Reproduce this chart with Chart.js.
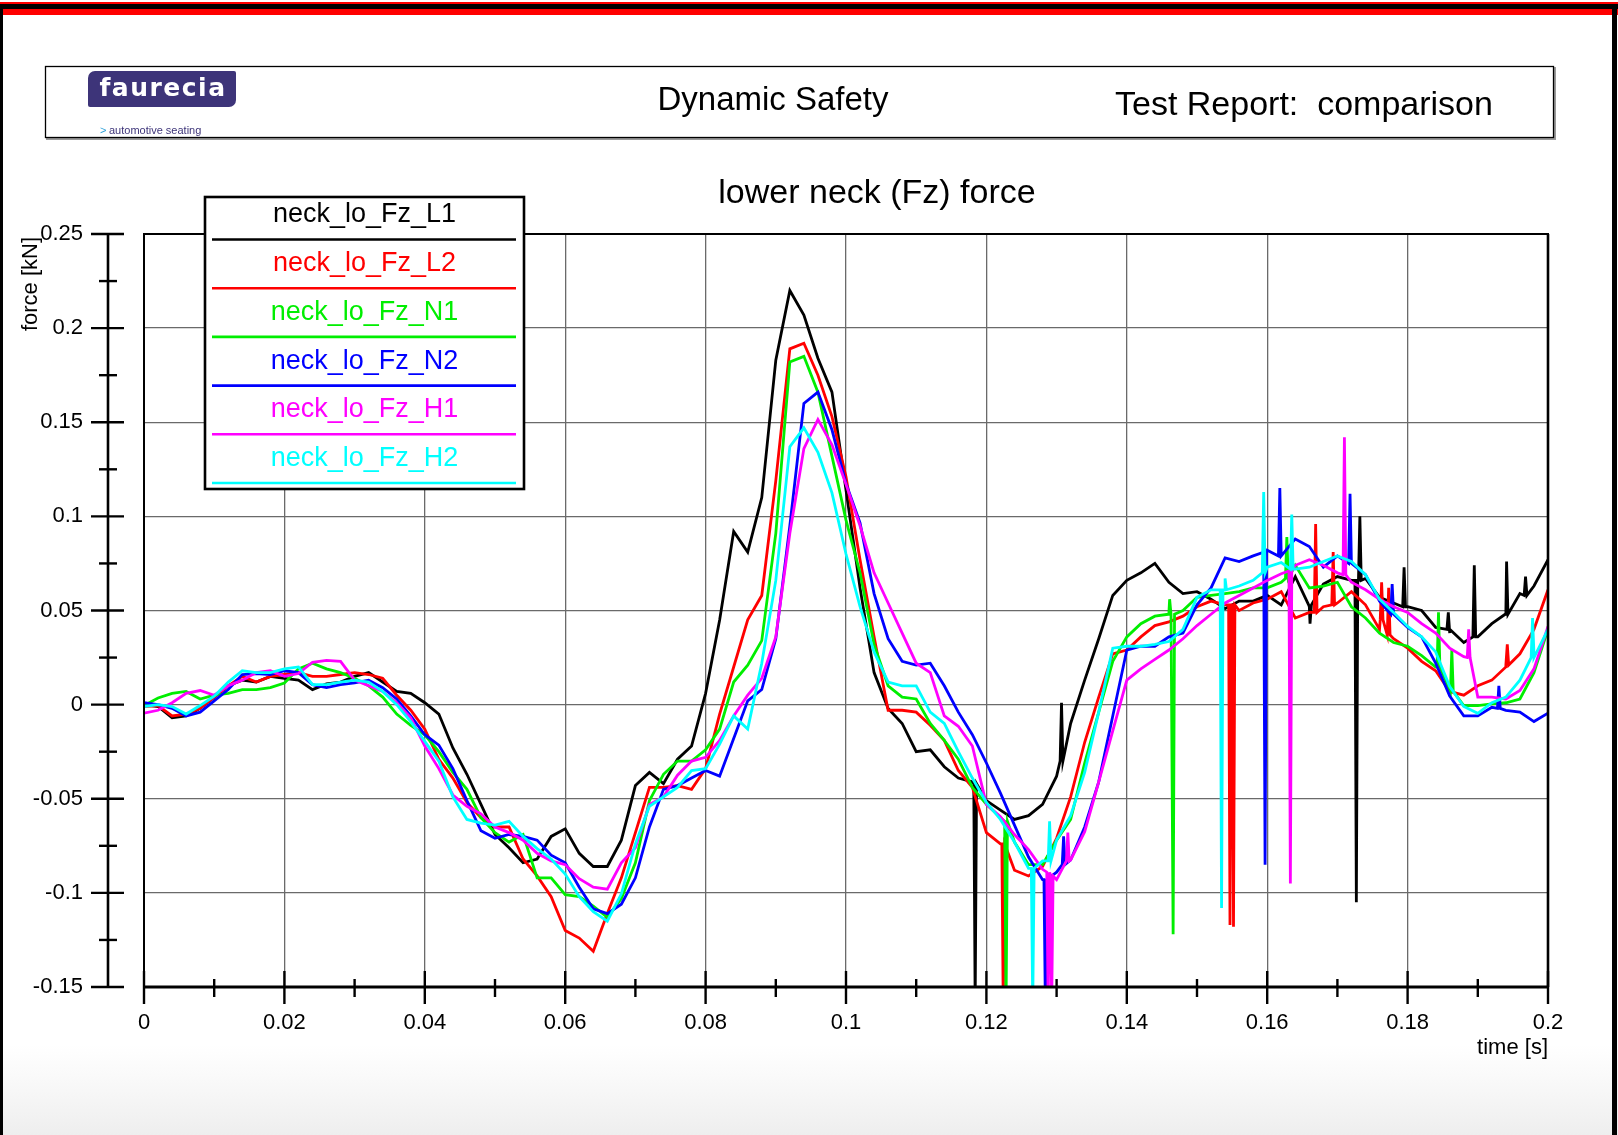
<!DOCTYPE html>
<html>
<head>
<meta charset="utf-8">
<script src="https://cdn.jsdelivr.net/npm/chart.js@4.4.1/dist/chart.umd.min.js"></script>
<style>
  html, body { margin: 0; padding: 0; background: #fff; }
  canvas { display: block; }
</style>
</head>
<body>
<canvas id="chart" width="1618" height="1135"></canvas>
<script>
// sample times [s], one value per 2 ms
const timeS = [
  0, 0.002, 0.004, 0.006, 0.008, 0.01, 0.012, 0.014, 0.016, 0.018,
  0.02, 0.022, 0.024, 0.026, 0.028, 0.03, 0.032, 0.034, 0.036, 0.038,
  0.04, 0.042, 0.044, 0.046, 0.048, 0.05, 0.052, 0.054, 0.056, 0.058,
  0.06, 0.062, 0.064, 0.066, 0.068, 0.07, 0.072, 0.074, 0.076, 0.078,
  0.08, 0.082, 0.084, 0.086, 0.088, 0.09, 0.092, 0.094, 0.096, 0.098,
  0.1, 0.102, 0.104, 0.106, 0.108, 0.11, 0.112, 0.114, 0.116, 0.118,
  0.12, 0.122, 0.124, 0.126, 0.128, 0.13, 0.132, 0.134, 0.136, 0.138,
  0.14, 0.142, 0.144, 0.146, 0.148, 0.15, 0.152, 0.154, 0.156, 0.158,
  0.16, 0.162, 0.164, 0.166, 0.168, 0.17, 0.172, 0.174, 0.176, 0.178,
  0.18, 0.182, 0.184, 0.186, 0.188, 0.19, 0.192, 0.194, 0.196, 0.198,
  0.2
];

// force [kN]
const fzL1 = [
  0.000, -0.001, -0.007, -0.006, -0.002, 0.004, 0.010, 0.013, 0.012, 0.015,
  0.014, 0.013, 0.008, 0.011, 0.012, 0.015, 0.017, 0.012, 0.007, 0.006,
  0.001, -0.005, -0.023, -0.037, -0.053, -0.069, -0.076, -0.084, -0.082, -0.070,
  -0.066, -0.079, -0.086, -0.086, -0.072, -0.043, -0.036, -0.042, -0.029, -0.022,
  0.006, 0.045, 0.092, 0.081, 0.110, 0.183, 0.220, 0.207, 0.184, 0.166,
  0.114, 0.062, 0.017, -0.002, -0.010, -0.025, -0.024, -0.033, -0.039, -0.041,
  -0.051, -0.056, -0.061, -0.059, -0.053, -0.038, -0.010, 0.013, 0.035, 0.058,
  0.066, 0.070, 0.075, 0.065, 0.059, 0.060, 0.056, 0.051, 0.055, 0.055,
  0.058, 0.053, 0.068, 0.052, 0.064, 0.068, 0.066, 0.067, 0.057, 0.054,
  0.052, 0.050, 0.041, 0.038, 0.033, 0.036, 0.043, 0.050, 0.059, 0.063,
  0.077
];
const fzL2 = [
  -0.001, -0.0005, -0.006, -0.005, -0.002, 0.004, 0.010, 0.015, 0.012, 0.015,
  0.016, 0.017, 0.015, 0.015, 0.016, 0.017, 0.016, 0.014, 0.005, -0.003,
  -0.013, -0.029, -0.039, -0.052, -0.060, -0.065, -0.065, -0.082, -0.091, -0.102,
  -0.120, -0.124, -0.131, -0.111, -0.092, -0.068, -0.044, -0.044, -0.043, -0.045,
  -0.034, -0.005, 0.020, 0.045, 0.058, 0.119, 0.189, 0.192, 0.175, 0.153,
  0.121, 0.077, 0.036, -0.003, -0.003, -0.004, -0.011, -0.019, -0.035, -0.044,
  -0.068, -0.074, -0.088, -0.091, -0.086, -0.071, -0.049, -0.020, 0.004, 0.027,
  0.029, 0.036, 0.042, 0.044, 0.047, 0.052, 0.055, 0.053, 0.050, 0.054,
  0.056, 0.060, 0.046, 0.049, 0.052, 0.054, 0.060, 0.053, 0.040, 0.035,
  0.030, 0.023, 0.018, 0.007, 0.005, 0.010, 0.013, 0.020, 0.027, 0.040,
  0.061
];
const fzN1 = [
  -0.0005, 0.0035, 0.006, 0.007, 0.003, 0.005, 0.006, 0.008, 0.008, 0.009,
  0.0115, 0.019, 0.022, 0.019, 0.017, 0.014, 0.010, 0.004, -0.005, -0.011,
  -0.016, -0.025, -0.036, -0.045, -0.060, -0.068, -0.073, -0.069, -0.092, -0.092,
  -0.101, -0.102, -0.107, -0.113, -0.103, -0.084, -0.051, -0.037, -0.030, -0.030,
  -0.024, -0.013, 0.012, 0.021, 0.034, 0.091, 0.182, 0.185, 0.166, 0.132,
  0.098, 0.070, 0.032, 0.010, 0.004, 0.003, -0.010, -0.019, -0.029, -0.044,
  -0.053, -0.060, -0.073, -0.085, -0.085, -0.072, -0.061, -0.031, -0.004, 0.023,
  0.036, 0.043, 0.047, 0.049, 0.050, 0.057, 0.058, 0.059, 0.060, 0.062,
  0.062, 0.065, 0.074, 0.062, 0.063, 0.065, 0.052, 0.046, 0.038, 0.033,
  0.031, 0.026, 0.020, 0.008, -0.0005, -0.0005, 0.0004, 0.001, 0.003, 0.017,
  0.040
];
const fzN2 = [
  0.001, 0.000, -0.002, -0.006, -0.004, 0.002, 0.008, 0.016, 0.0165, 0.016,
  0.018, 0.017, 0.0106, 0.009, 0.0106, 0.0115, 0.013, 0.009, 0.003, -0.006,
  -0.016, -0.0215, -0.034, -0.051, -0.067, -0.071, -0.069, -0.070, -0.072, -0.080,
  -0.084, -0.097, -0.1085, -0.111, -0.106, -0.092, -0.065, -0.045, -0.043, -0.039,
  -0.035, -0.038, -0.018, 0.002, 0.008, 0.035, 0.095, 0.160, 0.166, 0.146,
  0.1175, 0.0965, 0.059, 0.035, 0.023, 0.021, 0.022, 0.010, -0.004, -0.016,
  -0.031, -0.047, -0.064, -0.081, -0.093, -0.089, -0.0825, -0.065, -0.041, -0.006,
  0.029, 0.031, 0.031, 0.036, 0.038, 0.053, 0.062, 0.078, 0.076, 0.079,
  0.082, 0.079, 0.088, 0.084, 0.073, 0.079, 0.075, 0.069, 0.055, 0.049,
  0.041, 0.036, 0.022, 0.0045, -0.006, -0.006, -0.0014, -0.003, -0.004, -0.009,
  -0.0045
];
const fzH1 = [
  -0.0045, -0.003, 0.001, 0.006, 0.0075, 0.005, 0.010, 0.013, 0.017, 0.018,
  0.015, 0.0165, 0.0225, 0.0235, 0.023, 0.013, 0.010, 0.007, 0.001, -0.007,
  -0.022, -0.034, -0.048, -0.054, -0.058, -0.065, -0.068, -0.072, -0.079, -0.083,
  -0.085, -0.0925, -0.097, -0.098, -0.084, -0.076, -0.053, -0.049, -0.0375, -0.030,
  -0.028, -0.019, -0.006, 0.005, 0.014, 0.036, 0.091, 0.136, 0.1515, 0.138,
  0.117, 0.095, 0.070, 0.054, 0.038, 0.022, 0.017, -0.006, -0.0115, -0.022,
  -0.053, -0.0595, -0.069, -0.077, -0.0875, -0.093, -0.0825, -0.0675, -0.041, -0.014,
  0.013, 0.019, 0.024, 0.029, 0.035, 0.042, 0.048, 0.054, 0.058, 0.062,
  0.066, 0.0695, 0.074, 0.077, 0.074, 0.070, 0.065, 0.061, 0.056, 0.052,
  0.049, 0.043, 0.038, 0.030, 0.0255, 0.004, 0.004, 0.003, 0.0075, 0.019,
  0.0415
];
const fzH2 = [
  -0.001, 0.000, -0.001, -0.005, -0.0005, 0.0045, 0.012, 0.018, 0.017, 0.017,
  0.019, 0.020, 0.0106, 0.0106, 0.012, 0.013, 0.012, 0.007, 0.000, -0.009,
  -0.0195, -0.030, -0.049, -0.061, -0.063, -0.064, -0.062, -0.070, -0.0765, -0.082,
  -0.090, -0.102, -0.110, -0.115, -0.1005, -0.074, -0.054, -0.049, -0.044, -0.035,
  -0.034, -0.021, -0.006, -0.013, 0.022, 0.066, 0.137, 0.147, 0.134, 0.1125,
  0.080, 0.052, 0.028, 0.012, 0.010, 0.010, -0.004, -0.010, -0.025, -0.039,
  -0.052, -0.061, -0.073, -0.087, -0.083, -0.072, -0.059, -0.036, -0.004, 0.030,
  0.031, 0.031, 0.032, 0.0335, 0.040, 0.057, 0.061, 0.061, 0.063, 0.066,
  0.073, 0.0755, 0.072, 0.073, 0.076, 0.079, 0.076, 0.069, 0.056, 0.049,
  0.0415, 0.036, 0.028, 0.0096, -0.001, -0.0046, 0.001, 0.004, 0.013, 0.027,
  0.040
];

// single-sample spikes: [time s, level around it kN, spike value kN]
const spikesL1 = [[0.1184, -0.042, -0.16], [0.1307, -0.030, 0.001], [0.1661, 0.053, 0.043],
  [0.1727, 0.066, -0.105], [0.1732, 0.066, 0.100], [0.1795, 0.052, 0.073], [0.1858, 0.040, 0.049],
  [0.1895, 0.036, 0.074], [0.1941, 0.048, 0.076], [0.1968, 0.058, 0.068]];
const spikesL2 = [[0.1224, -0.074, -0.16], [0.1547, 0.053, -0.117], [0.1552, 0.053, -0.118],
  [0.1669, 0.049, 0.096], [0.1694, 0.053, 0.081], [0.1763, 0.045, 0.065], [0.1773, 0.037, 0.062],
  [0.1942, 0.021, 0.032]];
const spikesN1 = [[0.1228, -0.062, -0.16], [0.1461, 0.048, 0.056], [0.1466, 0.048, -0.122],
  [0.1628, 0.067, 0.089], [0.1844, 0.020, 0.049], [0.1863, 0.007, 0.029]];
const spikesN2 = [[0.1284, -0.093, -0.16], [0.1310, -0.085, -0.070], [0.1597, 0.081, -0.085],
  [0.1618, 0.079, 0.115], [0.1718, 0.075, 0.112], [0.1778, 0.048, 0.064], [0.1930, -0.002, 0.010]];
const spikesH1 = [[0.1288, -0.089, -0.16], [0.1293, -0.091, -0.16], [0.1316, -0.083, -0.068],
  [0.1633, 0.071, -0.095], [0.1710, 0.069, 0.142], [0.1887, 0.025, 0.040]];
const spikesH2 = [[0.1266, -0.087, -0.16], [0.1290, -0.083, -0.062], [0.1535, 0.061, -0.108],
  [0.1540, 0.061, 0.067], [0.1595, 0.070, 0.113], [0.1635, 0.072, 0.101], [0.1978, 0.025, 0.046]];

const seriesNames = ['neck_lo_Fz_L1', 'neck_lo_Fz_L2', 'neck_lo_Fz_N1', 'neck_lo_Fz_N2', 'neck_lo_Fz_H1', 'neck_lo_Fz_H2'];
const seriesColors = ['#000000', '#ff0000', '#00ee00', '#0000ff', '#ff00ff', '#00ffff'];
const seriesValues = [fzL1, fzL2, fzN1, fzN2, fzH1, fzH2];
const seriesSpikes = [spikesL1, spikesL2, spikesN1, spikesN2, spikesH1, spikesH2];

const xTickLabels = ['0', '0.02', '0.04', '0.06', '0.08', '0.1', '0.12', '0.14', '0.16', '0.18', '0.2'];
const xMinorTicks = [0.01, 0.03, 0.05, 0.07, 0.09, 0.11, 0.13, 0.15, 0.17, 0.19];
const yTickLabels = ['0.25', '0.2', '0.15', '0.1', '0.05', '0', '-0.05', '-0.1', '-0.15'];
const yMinorTicks = [0.225, 0.175, 0.125, 0.075, 0.025, -0.025, -0.075, -0.125];

const chartTitle = 'lower neck (Fz) force';
const FONT = '"Liberation Sans", Arial, Helvetica, sans-serif';

function buildPoints(values, spikes) {
  const pts = timeS.map((t, i) => ({ x: t, y: values[i] }));
  spikes.forEach(([t, base, peak]) => {
    pts.push({ x: t - 0.0002, y: base }, { x: t, y: peak }, { x: t + 0.0002, y: base });
  });
  return pts.sort((a, b) => a.x - b.x);
}

function line(ctx, x1, y1, x2, y2) {
  ctx.beginPath();
  ctx.moveTo(x1, y1);
  ctx.lineTo(x2, y2);
  ctx.stroke();
}

const pageDecor = {
  id: 'pageDecor',
  beforeDraw(chart) {
    const ctx = chart.ctx;
    ctx.save();
    ctx.fillStyle = '#fff';
    ctx.fillRect(0, 0, 1618, 1135);

    // faint grey floor at the bottom of the sheet
    const g = ctx.createLinearGradient(0, 1045, 0, 1135);
    g.addColorStop(0, 'rgba(240,240,240,0)');
    g.addColorStop(1, 'rgba(238,238,238,1)');
    ctx.fillStyle = g;
    ctx.fillRect(0, 1045, 1618, 90);

    // sheet border
    ctx.fillStyle = '#ff0000';
    ctx.fillRect(0, 2, 1618, 2);
    ctx.fillStyle = '#000';
    ctx.fillRect(0, 4, 1618, 5);
    ctx.fillStyle = '#ff0000';
    ctx.fillRect(0, 9, 1618, 6);
    ctx.fillStyle = '#000';
    ctx.fillRect(0, 4, 3, 1131);
    ctx.fillRect(1612, 4, 5, 1131);

    // header box
    ctx.fillStyle = '#9a9a9a';
    ctx.fillRect(46, 138, 1510, 2);
    ctx.fillRect(1554, 67, 2, 73);
    ctx.strokeStyle = '#000';
    ctx.lineWidth = 1.3;
    ctx.strokeRect(45.5, 66.5, 1508, 71);

    // logo
    ctx.fillStyle = '#3d3479';
    ctx.beginPath();
    ctx.roundRect(88, 71, 148, 36, [7, 2, 7, 2]);
    ctx.fill();
    ctx.fillStyle = '#fff';
    ctx.font = 'bold 25px "DejaVu Sans", sans-serif';
    ctx.letterSpacing = '1.5px';
    ctx.textAlign = 'center';
    ctx.textBaseline = 'middle';
    ctx.fillText('faurecia', 163, 89);
    ctx.letterSpacing = '0px';
    ctx.textAlign = 'left';
    ctx.font = '11px ' + FONT;
    ctx.fillStyle = '#2a9fd8';
    ctx.fillText('>', 100, 131);
    ctx.fillStyle = '#3d3479';
    ctx.fillText('automotive seating', 109, 131);

    ctx.fillStyle = '#000';
    ctx.font = '33px ' + FONT;
    ctx.textAlign = 'center';
    ctx.fillText('Dynamic Safety', 773, 101);
    ctx.textAlign = 'left';
    ctx.font = '34px ' + FONT;
    ctx.fillText('Test Report:  comparison', 1115, 106);

    ctx.font = '34px ' + FONT;
    ctx.textAlign = 'center';
    ctx.fillText(chartTitle, 877, 194);
    ctx.restore();
  },
  afterDraw(chart) {
    const ctx = chart.ctx;
    const a = chart.chartArea;
    const xs = chart.scales.x;
    const ys = chart.scales.y;
    ctx.save();
    ctx.strokeStyle = '#000';
    ctx.lineCap = 'butt';

    // plot frame
    ctx.lineWidth = 2;
    line(ctx, a.left, a.top, a.left, a.bottom);
    line(ctx, a.left - 1, a.top, a.right + 1, a.top);
    ctx.lineWidth = 2.6;
    line(ctx, a.right, a.top, a.right, a.bottom);

    // time axis
    ctx.lineWidth = 3;
    line(ctx, a.left, a.bottom, a.right + 1, a.bottom);
    ctx.lineWidth = 2.4;
    xTickLabels.forEach(lbl => {
      const px = xs.getPixelForValue(parseFloat(lbl));
      line(ctx, px, a.bottom - 16, px, a.bottom + 17);
    });
    xMinorTicks.forEach(v => {
      const px = xs.getPixelForValue(v);
      line(ctx, px, a.bottom - 8, px, a.bottom + 10);
    });
    ctx.fillStyle = '#000';
    ctx.font = '22px ' + FONT;
    ctx.textAlign = 'center';
    ctx.textBaseline = 'middle';
    xTickLabels.forEach(lbl => {
      ctx.fillText(lbl, xs.getPixelForValue(parseFloat(lbl)), a.bottom + 36);
    });
    ctx.textAlign = 'right';
    ctx.fillText('time [s]', a.right, a.bottom + 61);

    // force axis, offset to the left of the plot
    const ax = 108;
    ctx.lineWidth = 2.6;
    line(ctx, ax, ys.getPixelForValue(0.25) - 1, ax, a.bottom + 1);
    ctx.lineWidth = 2.4;
    yTickLabels.forEach(lbl => {
      const py = ys.getPixelForValue(parseFloat(lbl));
      line(ctx, ax - 17, py, ax + 16, py);
    });
    yMinorTicks.forEach(v => {
      const py = ys.getPixelForValue(v);
      line(ctx, ax - 9, py, ax + 9, py);
    });
    ctx.textAlign = 'right';
    yTickLabels.forEach(lbl => {
      ctx.fillText(lbl, 83, ys.getPixelForValue(parseFloat(lbl)));
    });
    ctx.save();
    ctx.translate(31, 284);
    ctx.rotate(-Math.PI / 2);
    ctx.textAlign = 'center';
    ctx.font = '22px ' + FONT;
    ctx.fillText('force [kN]', 0, 0);
    ctx.restore();

    // legend box
    const lx = 205, ly = 197, lw = 319, lh = 292, step = 48.7;
    ctx.fillStyle = '#fff';
    ctx.fillRect(lx, ly, lw, lh);
    ctx.lineWidth = 2.6;
    ctx.strokeStyle = '#000';
    ctx.strokeRect(lx, ly, lw, lh);
    ctx.font = '27px ' + FONT;
    ctx.textAlign = 'center';
    chart.data.datasets.forEach((ds, i) => {
      ctx.fillStyle = ds.borderColor;
      ctx.fillText(ds.label, lx + lw / 2, ly + 18 + i * step);
      ctx.strokeStyle = ds.borderColor;
      ctx.lineWidth = 2.6;
      line(ctx, lx + 7, ly + 42.5 + i * step, lx + lw - 8, ly + 42.5 + i * step);
    });
    ctx.restore();
  }
};

const gridStyle = { color: '#6a6a6a', lineWidth: 1.3, drawTicks: false };

new Chart(document.getElementById('chart'), {
  type: 'line',
  data: {
    datasets: seriesNames.map((name, i) => ({
      label: name,
      data: buildPoints(seriesValues[i], seriesSpikes[i]),
      borderColor: seriesColors[i],
      backgroundColor: seriesColors[i],
      borderWidth: 2.8,
      pointRadius: 0,
      tension: 0,
      fill: false,
      order: seriesNames.length - i
    }))
  },
  options: {
    responsive: false,
    animation: false,
    devicePixelRatio: 1,
    layout: { padding: { left: 144, top: 234, right: 70, bottom: 148 } },
    plugins: {
      legend: { display: false },
      tooltip: { enabled: false },
      title: { display: false }
    },
    scales: {
      x: {
        type: 'linear',
        min: 0,
        max: 0.2,
        ticks: { display: false, stepSize: 0.02 },
        grid: gridStyle,
        border: { display: false }
      },
      y: {
        type: 'linear',
        min: -0.15,
        max: 0.25,
        ticks: { display: false, stepSize: 0.05 },
        grid: gridStyle,
        border: { display: false }
      }
    }
  },
  plugins: [pageDecor]
});
</script>
</body>
</html>
